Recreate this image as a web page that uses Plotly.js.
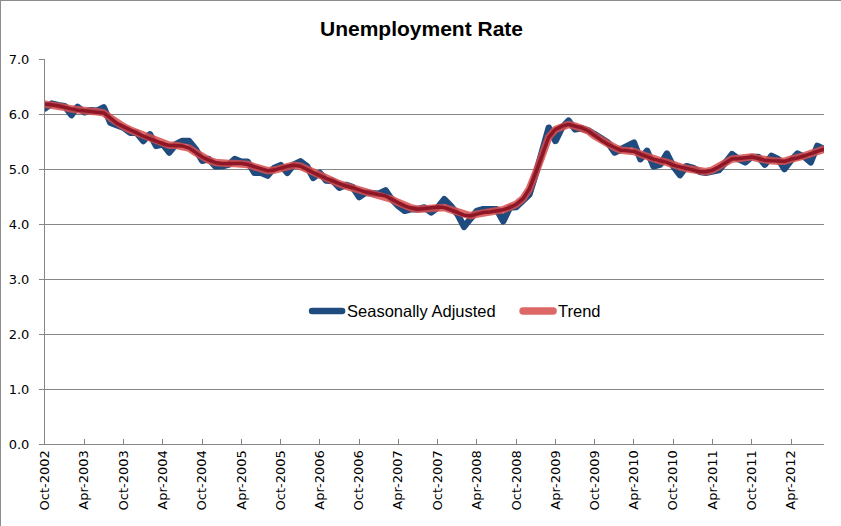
<!DOCTYPE html>
<html>
<head>
<meta charset="utf-8">
<script src="https://cdn.plot.ly/plotly-3.0.1.min.js"></script>
<style>
html,body{margin:0;padding:0;background:#fff;}
#chart{width:841px;height:526px;box-sizing:border-box;border:1px solid #8c8c8c;}
#chart path.js-line{stroke-linejoin:round !important;stroke-linecap:round !important;}
</style>
</head>
<body>
<div id="chart"></div>
<script>
// Monthly data, Oct-2002 .. Sep-2012
const startYear = 2002, startMonth = 10;
const seasonallyAdjusted = [
  6.10, 6.19, 6.16, 6.14, 5.98, 6.13, 6.03, 6.07, 6.06, 6.12,
  5.84, 5.79, 5.75, 5.66, 5.66, 5.51, 5.63, 5.42, 5.45, 5.30,
  5.45, 5.51, 5.51, 5.36, 5.15, 5.18, 5.05, 5.05, 5.08, 5.18,
  5.13, 5.13, 4.93, 4.93, 4.88, 5.02, 5.07, 4.93, 5.08, 5.14,
  5.05, 4.84, 4.93, 4.79, 4.78, 4.66, 4.71, 4.67, 4.49, 4.57,
  4.57, 4.55, 4.61, 4.45, 4.33, 4.24, 4.27, 4.27, 4.30, 4.21,
  4.30, 4.45, 4.33, 4.18, 3.95, 4.09, 4.24, 4.27, 4.27, 4.27,
  4.05, 4.30, 4.31, 4.42, 4.54, 4.93, 5.33, 5.75, 5.51, 5.75,
  5.88, 5.72, 5.74, 5.70, 5.63, 5.56, 5.48, 5.30, 5.36, 5.39,
  5.48, 5.18, 5.33, 5.05, 5.08, 5.28, 5.05, 4.89, 5.05, 5.02,
  4.95, 4.93, 4.95, 4.98, 5.12, 5.27, 5.18, 5.12, 5.22, 5.22,
  5.08, 5.24, 5.18, 5.00, 5.16, 5.28, 5.22, 5.12, 5.42, 5.36
];
const trend = [
  6.18, 6.17, 6.15, 6.12, 6.09, 6.07, 6.06, 6.05, 6.04, 6.02,
  5.93, 5.83, 5.77, 5.71, 5.66, 5.60, 5.55, 5.50, 5.46, 5.43,
  5.43, 5.42, 5.38, 5.30, 5.22, 5.16, 5.12, 5.10, 5.10, 5.10,
  5.10, 5.08, 5.04, 5.00, 4.97, 4.98, 5.02, 5.05, 5.07, 5.05,
  4.99, 4.93, 4.88, 4.83, 4.78, 4.73, 4.69, 4.66, 4.62, 4.58,
  4.56, 4.54, 4.51, 4.45, 4.39, 4.33, 4.29, 4.27, 4.28, 4.30,
  4.31, 4.30, 4.26, 4.21, 4.16, 4.15, 4.18, 4.21, 4.22, 4.24,
  4.26, 4.30, 4.36, 4.46, 4.64, 4.95, 5.30, 5.58, 5.72, 5.78,
  5.81, 5.78, 5.75, 5.69, 5.60, 5.52, 5.45, 5.39, 5.34, 5.33,
  5.32, 5.27, 5.22, 5.18, 5.15, 5.12, 5.07, 5.04, 5.01, 4.99,
  4.95, 4.95, 4.98, 5.04, 5.12, 5.18, 5.19, 5.20, 5.22, 5.19,
  5.16, 5.15, 5.14, 5.14, 5.18, 5.20, 5.24, 5.28, 5.33, 5.36
];
const tickLabels = [
  "Oct-2002","Apr-2003","Oct-2003","Apr-2004","Oct-2004","Apr-2005",
  "Oct-2005","Apr-2006","Oct-2006","Apr-2007","Oct-2007","Apr-2008",
  "Oct-2008","Apr-2009","Oct-2009","Apr-2010","Oct-2010","Apr-2011",
  "Oct-2011","Apr-2012"
];
const yTickVals = [0,1,2,3,4,5,6,7];
const yTickText = ["0.0","1.0","2.0","3.0","4.0","5.0","6.0","7.0"];

function monthDate(k){
  const m0 = startMonth - 1 + k;
  const y = startYear + Math.floor(m0/12);
  const m = (m0 % 12) + 1;
  return y + "-" + (m<10?"0":"") + m + "-01";
}
const dates = seasonallyAdjusted.map((_,k)=>monthDate(k));
const tickVals = tickLabels.map((_,k)=>monthDate(6*k));

const traces = [
  {x: dates, y: seasonallyAdjusted, type:"scatter", mode:"lines", name:"Seasonally Adjusted",
   line:{color:"#1F4B7E", width:6.5}},
  {x: dates, y: trend, type:"scatter", mode:"lines", name:"Trend",
   line:{color:"rgba(214,78,76,0.85)", width:7.5}},
  {x: dates, y: trend, type:"scatter", mode:"lines", name:"Trend core", showlegend:false,
   line:{color:"#8E1626", width:3.5}}
];

const layout = {
  width: 841, height: 526,
  margin:{l:44, r:18, t:58, b:83},
  paper_bgcolor:"#ffffff", plot_bgcolor:"#ffffff",
  title:{text:"<b>Unemployment Rate</b>", x:0.5, xanchor:"center", y:0.948, yanchor:"middle",
         font:{family:"Liberation Sans, Arial, sans-serif", size:21, color:"#000"}},
  showlegend:true,
  legend:{orientation:"h", x:0.3364, xanchor:"left", y:0.345, yanchor:"middle",
          entrywidth:166, entrywidthmode:"pixels",
          bgcolor:"rgba(0,0,0,0)", font:{family:"Liberation Sans, Arial, sans-serif", size:16.5, color:"#000"},
          itemwidth:30},
  xaxis:{type:"date", range:[monthDate(0), monthDate(seasonallyAdjusted.length-1)],
         tickmode:"array", tickvals:tickVals, ticktext:tickLabels, tickangle:-90,
         ticks:"inside", ticklen:5, tickcolor:"#868686",
         showline:true, linecolor:"#868686", linewidth:1, showgrid:false, zeroline:false,
         tickfont:{family:"DejaVu Sans, Verdana, sans-serif", size:13, color:"#000"}},
  yaxis:{range:[0,7], tickmode:"array", tickvals:yTickVals, ticktext:yTickText,
         showline:true, linecolor:"#868686", linewidth:1,
         showgrid:true, gridcolor:"#868686", gridwidth:1, zeroline:false,
         ticks:"outside", ticklen:5, tickcolor:"#868686", ticklabelstandoff:7,
         tickfont:{family:"DejaVu Sans, Verdana, sans-serif", size:13, color:"#000"}}
};

Plotly.newPlot("chart", traces, layout, {displayModeBar:false, staticPlot:true});
</script>
</body>
</html>
